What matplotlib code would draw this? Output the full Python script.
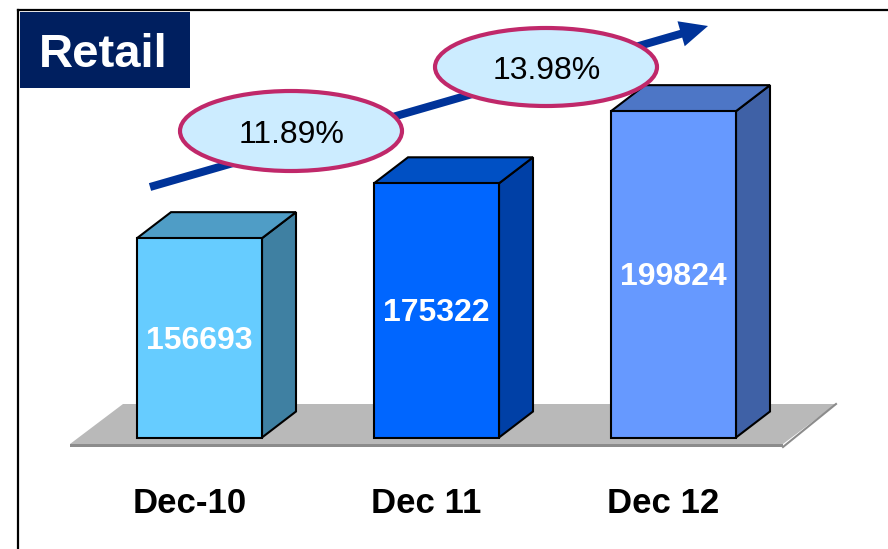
import matplotlib.pyplot as plt
from matplotlib.patches import Polygon, Ellipse, Rectangle, FancyArrow
import numpy as np

plt.rcParams['font.family'] = ['Liberation Sans', 'DejaVu Sans']

# data
title = 'Retail'
categories = ['Dec-10', 'Dec 11', 'Dec 12']
values = [156693, 175322, 199824]
front_colors = ['#66CCFF', '#0066FF', '#6699FF']
top_colors = ['#4F9DC6', '#0050C4', '#4D76C6']
side_colors = ['#3F80A2', '#0040A6', '#3F61A6']

# growth between consecutive years
growth = [values[i + 1] / values[i] - 1 for i in range(len(values) - 1)]

W, H = 888, 549
base = 89000          # value sitting on the floor
vpp = 339.6           # value units per pixel
xpp = 1 / 237         # category units per pixel

fig = plt.figure(figsize=(W / 100, H / 100), dpi=100)
ax = fig.add_axes([0, 0, 1, 1])
ax.set_xlim(-199.5 * xpp, (W - 199.5) * xpp)
ax.set_ylim(base - (H - 437.5) * vpp, base + 437.5 * vpp)
ax.axis('off')

x = np.arange(len(values))
vals = np.array(values)
w = 125 * xpp
dx, dy = 34 * xpp, 26 * vpp

# grey floor
fl = x[0] - w / 2 - 67 * xpp
fr = x[-1] + w / 2 + 47 * xpp
sx = 53 * xpp
y_front = base - 6.5 * vpp
y_back = base + 33.5 * vpp
y_edge = base - 9.5 * vpp
ax.add_patch(Polygon([(fl, y_edge), (fr, y_edge), (fr, y_front), (fl, y_front)],
                     closed=True, fc='#8C8C8C', ec='none', zorder=1))
ax.add_patch(Polygon([(fl, y_front), (fr, y_front), (fr + sx, y_back), (fl + sx, y_back)],
                     closed=True, fc='#B9B9B9', ec='none', zorder=1))
ax.plot([fr, fr + sx], [y_edge, y_back], color='#8C8C8C', lw=1.5, zorder=1)

# 3d bars: side + top faces, then front faces
for xi, v, tc, sc in zip(x, vals, top_colors, side_colors):
    l, r = xi - w / 2, xi + w / 2
    ax.add_patch(Polygon([(r, base), (r + dx, base + dy), (r + dx, v + dy), (r, v)],
                         closed=True, fc=sc, ec='black', lw=1.5, zorder=2))
    ax.add_patch(Polygon([(l, v), (r, v), (r + dx, v + dy), (l + dx, v + dy)],
                         closed=True, fc=tc, ec='black', lw=1.5, zorder=2))

ax.bar(x, vals - base, bottom=base, width=w, color=front_colors,
       edgecolor='black', linewidth=1.5, zorder=3)

for xi, v in zip(x, vals):
    ax.text(xi, (v + base) / 2 - 11 * vpp, str(v), color='white', fontsize=23,
            fontweight='bold', ha='center', va='baseline', zorder=4)

for xi, c in zip(x, categories):
    ax.text(xi - 10 * xpp, base - 75.5 * vpp, c, color='black', fontsize=25,
            fontweight='bold', ha='center', va='baseline')

# overlay in pixel coordinates for the decorations
ov = fig.add_axes([0, 0, 1, 1])
ov.set_xlim(0, W)
ov.set_ylim(H, 0)
ov.axis('off')
ov.patch.set_alpha(0)

ov.plot([18, 18], [H, 10], color='black', lw=1.6)
ov.plot([18, W], [10, 10], color='black', lw=1.6)

ov.add_patch(Rectangle((20, 12), 170, 76, fc='#001F5F', ec='none'))
ov.text(103, 67, title, color='white', fontsize=34, fontweight='bold',
        ha='center', va='baseline')

ov.add_patch(FancyArrow(150, 187, 558, -161, width=8, head_width=26, head_length=28,
                        length_includes_head=True, color='#003399', lw=0))

ellipses = [(291, 131, 222, 80), (546, 67, 222, 78)]
for (cx, cy, ew, eh), g in zip(ellipses, growth):
    ov.add_patch(Ellipse((cx, cy), ew, eh, fc='#CCECFF', ec='#C0286A', lw=3))
    ov.text(cx + 1, cy + 12, f'{g * 100:.2f}%', color='black', fontsize=23,
            ha='center', va='baseline')

fig.savefig('out.png', dpi=100)
